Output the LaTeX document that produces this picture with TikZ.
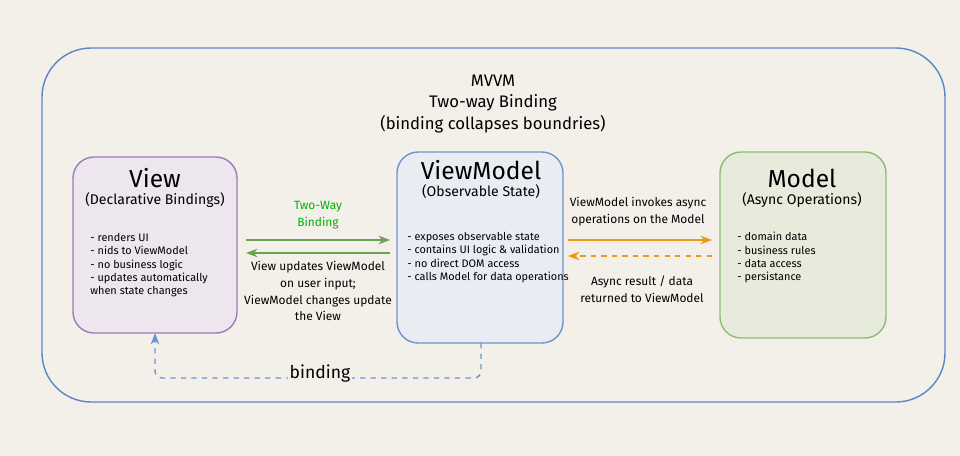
\documentclass[tikz,border=0pt]{standalone}
\usepackage{fontspec}
\setmainfont{Fira Sans}
\usetikzlibrary{positioning,arrows.meta}
\definecolor{bgc}{HTML}{F3EFE9}
\definecolor{framec}{HTML}{5B87C9}
\definecolor{viewc}{HTML}{9E7BB8}
\definecolor{viewf}{HTML}{EDE6EE}
\definecolor{vmc}{HTML}{6E93D4}
\definecolor{vmf}{HTML}{E9ECF2}
\definecolor{modc}{HTML}{8DBE6F}
\definecolor{modf}{HTML}{E6EBDC}
\definecolor{bindc}{HTML}{6BA352}
\definecolor{asyncc}{HTML}{E89A1C}
\tikzset{box/.style={draw,rounded corners=12pt,thick,inner sep=0pt},
  head/.style={font=\fontsize{14}{16}\selectfont},
  sub/.style={font=\fontsize{8}{10}\selectfont},
  items/.style={font=\fontsize{6.2}{7.6}\selectfont,align=left,anchor=north west,inner sep=0pt},
  lbl/.style={font=\fontsize{6.8}{9.6}\selectfont,align=center}}
\begin{document}
\begin{tikzpicture}[x=0.02cm,y=-0.02cm]
  \fill[bgc] (0,0) rectangle (960,456);
  \draw[framec,thick,rounded corners=28pt] (42,48) rectangle (945,402);
  \node[lbl,font=\fontsize{9.5}{12}\selectfont] (title) at (493,104) {MVVM\\Two-way Binding\\(binding collapses boundries)};

  % boxes
  \draw[box,viewc,fill=viewf] (73,157) rectangle (237,333);
  \coordinate (viewbot) at (155,333);
  \draw[box,vmc,fill=vmf] (397,152) rectangle (563,343);
  \coordinate (vmbot) at (481,343);
  \draw[box,modc,fill=modf] (720,152) rectangle (886,338);

  \node[head] (vhead) at (155,178) {View};
  \node[sub] (vsub) at (155,200) {(Declarative Bindings)};
  \node[items] (vitems) at (90,233) {- renders UI\\- nids to ViewModel\\- no business logic\\- updates automatically\\when state changes};
  \node[head] (vmhead) at (481,170) {ViewModel};
  \node[sub] (vmsub) at (481,192) {(Observable State)};
  \node[items] (vmitems) at (407,232) {- exposes observable state\\- contains UI logic \& validation\\- no direct DOM access\\- calls Model for data operations};
  \node[head] (mhead) at (802,178) {Model};
  \node[sub] (msub) at (802,200) {(Async Operations)};
  \node[items] (mitems) at (737,232) {- domain data\\- business rules\\- data access\\- persistance};

  % connectors
  \coordinate (a1) at (246,240); \coordinate (a2) at (390,240);
  \coordinate (b1) at (390,253); \coordinate (b2) at (246,253);
  \draw[bindc,thick,-{Stealth}] (a1) -- (a2);
  \draw[bindc,thick,-{Stealth}] (b1) -- (b2);
  \node[lbl,text=green!70!black] (twl) at (318,215) {Two-Way\\Binding};
  \node[lbl] (twd) at (318,291) {View updates ViewModel\\on user input;\\ViewModel changes update\\the View};
  \coordinate (c1) at (568,240); \coordinate (c2) at (712,240);
  \coordinate (d1) at (712,256); \coordinate (d2) at (568,256);
  \draw[asyncc,thick,-{Stealth}] (c1) -- (c2);
  \draw[asyncc,thick,dashed,-{Stealth}] (d1) -- (d2);
  \node[lbl] (asl) at (638,212) {ViewModel invokes async\\operations on the Model};
  \node[lbl] (asr) at (642,289) {Async result / data\\returned to ViewModel};
  \draw[vmc,thick,dashed,rounded corners=4pt,-{Stealth}] (vmbot) |- (155,378) -- (viewbot);
  \node[font=\fontsize{10}{12}\selectfont,fill=bgc,inner sep=1pt] (bind) at (320,374) {binding};
\end{tikzpicture}
\end{document}
